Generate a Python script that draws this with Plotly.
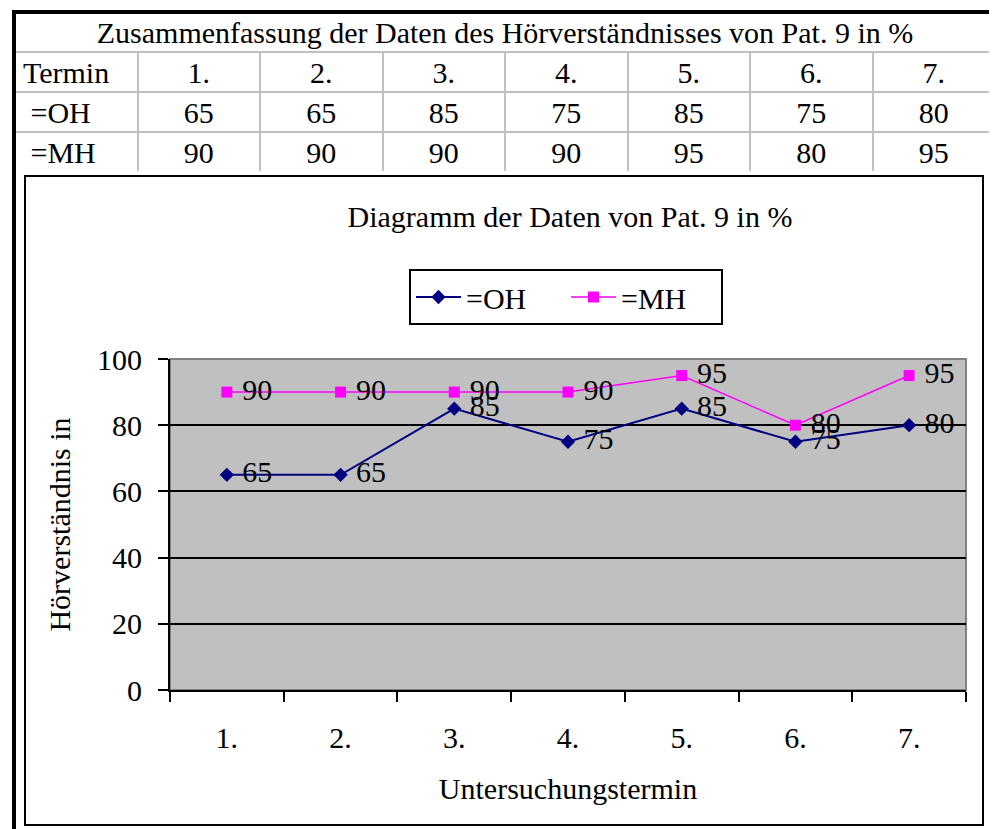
import plotly.graph_objects as go

TERMINE = ["1.", "2.", "3.", "4.", "5.", "6.", "7."]
OH = [65, 65, 85, 75, 85, 75, 80]
MH = [90, 90, 90, 90, 95, 80, 95]
ROW_LABELS = ["Termin", "=OH", "=MH"]
TABLE_TITLE = "Zusammenfassung der Daten des Hörverständnisses von Pat. 9 in %"
CHART_TITLE = "Diagramm der Daten von Pat. 9 in %"
Y_TITLE = "Hörverständnis in"
X_TITLE = "Untersuchungstermin"

OFF = 8  # page body margin, the figure starts at (8, 8)
W, H = 997 - OFF, 829 - OFF
FONT = "Liberation Serif"
FS = 30
NB = "\u00a0"


def px(x):
    return (x - OFF) / W


def py(y):
    return 1 - (y - OFF) / H


fig = go.Figure()

# summary table: title row + data rows
fig.add_trace(
    go.Table(
        domain=dict(x=[px(15), px(995)], y=[py(53), py(12)]),
        header=dict(
            values=[TABLE_TITLE],
            height=40,
            align="center",
            fill_color="white",
            line=dict(color="#c0c0c0", width=2),
            font=dict(family=FONT, size=FS, color="black"),
        ),
        cells=dict(values=[[]], height=40),
    )
)
fig.add_trace(
    go.Table(
        domain=dict(x=[px(15), px(995)], y=[py(172), py(52)]),
        columnwidth=[1] * 8,
        header=dict(
            values=[ROW_LABELS[0]] + TERMINE,
            height=40,
            align=["left"] + ["center"] * 7,
            fill_color="white",
            line=dict(color="#c0c0c0", width=2),
            font=dict(family=FONT, size=FS, color="black"),
        ),
        cells=dict(
            values=[[NB + r for r in ROW_LABELS[1:]]] + [[o, m] for o, m in zip(OH, MH)],
            height=40,
            align=["left"] + ["center"] * 7,
            fill_color="white",
            line=dict(color="#c0c0c0", width=2),
            font=dict(family=FONT, size=FS, color="black"),
        ),
    )
)

fig.add_trace(
    go.Scatter(
        x=TERMINE,
        y=OH,
        name="=OH",
        mode="lines+markers+text",
        text=[NB + str(v) for v in OH],
        textposition="middle right",
        textfont=dict(family=FONT, size=FS, color="black"),
        line=dict(color="#000080", width=2),
        marker=dict(symbol="diamond", size=11, color="#000080"),
    )
)
fig.add_trace(
    go.Scatter(
        x=TERMINE,
        y=MH,
        name="=MH",
        mode="lines+markers+text",
        text=[NB + str(v) for v in MH],
        textposition="middle right",
        textfont=dict(family=FONT, size=FS, color="black"),
        line=dict(color="#ff00ff", width=1.5),
        marker=dict(symbol="square", size=11, color="#ff00ff"),
    )
)

fig.update_layout(
    width=W,
    height=H,
    margin=dict(l=0, r=0, t=0, b=0, pad=0),
    paper_bgcolor="white",
    plot_bgcolor="#c0c0c0",
    font=dict(family=FONT, size=FS, color="black"),
    title=dict(
        text=CHART_TITLE,
        x=px(570),
        xanchor="center",
        y=py(216),
        yanchor="middle",
        font=dict(family=FONT, size=FS, color="black"),
    ),
    legend=dict(
        orientation="h",
        x=px(566),
        xanchor="center",
        y=py(269),
        yanchor="top",
        bgcolor="white",
        bordercolor="black",
        borderwidth=2,
        itemwidth=45,
        entrywidth=95,
        font=dict(family=FONT, size=FS, color="black"),
    ),
    xaxis=dict(
        domain=[px(170), px(966)],
        type="category",
        range=[-0.5, 6.5],
        automargin=False,
        tickson="boundaries",
        ticks="outside",
        ticklen=10,
        tickwidth=2,
        tickcolor="black",
        ticklabelstandoff=20,
        showgrid=False,
        showline=True,
        linecolor="black",
        linewidth=2,
        title=dict(text=X_TITLE, standoff=25, font=dict(family=FONT, size=FS)),
    ),
    yaxis=dict(
        domain=[py(690), py(359)],
        range=[0, 100],
        dtick=20,
        automargin=False,
        ticks="outside",
        ticklen=10,
        tickwidth=2,
        tickcolor="black",
        ticklabelstandoff=10,
        showgrid=True,
        gridcolor="black",
        gridwidth=1.5,
        zeroline=False,
        showline=True,
        linecolor="black",
        linewidth=2,
        title=dict(text=Y_TITLE, standoff=18, font=dict(family=FONT, size=FS)),
    ),
    shapes=[
        # gray border of plot area (top/right)
        dict(type="rect", xref="paper", yref="paper",
             x0=px(170), x1=px(966), y0=py(690), y1=py(359),
             line=dict(color="#808080", width=2), layer="below"),
        # chart frame
        dict(type="rect", xref="paper", yref="paper",
             x0=px(25), x1=px(983), y0=py(825), y1=py(176),
             line=dict(color="black", width=2)),
        # outer page frame
        dict(type="rect", xref="paper", yref="paper",
             x0=px(14), x1=px(995), y0=py(840), y1=py(12),
             line=dict(color="black", width=4)),
    ],
)

fig.write_html("out.html")
